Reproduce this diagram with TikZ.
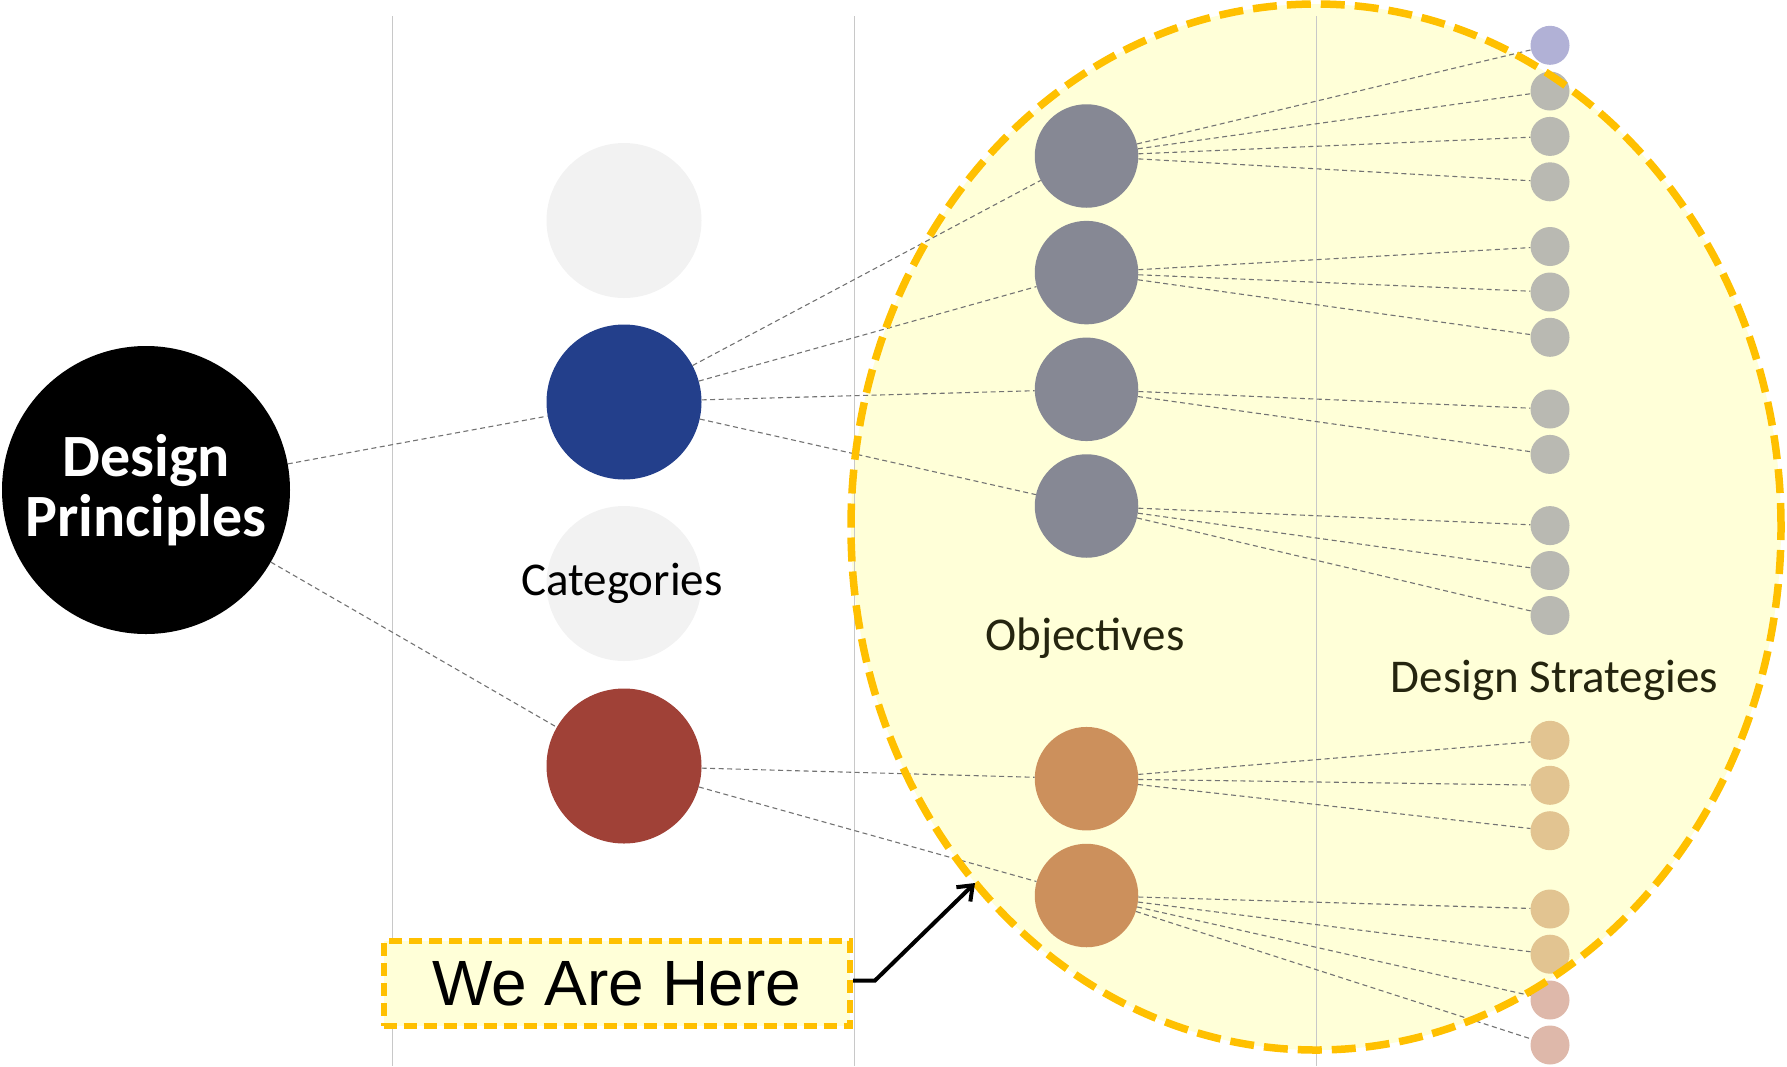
\documentclass[tikz,border=0pt]{standalone}
\usepackage{fontspec}
\setmainfont{Carlito}
\newfontfamily\arialf{Liberation Sans}
\usetikzlibrary{arrows.meta}
\definecolor{ylfill}{HTML}{FFFFD8}
\definecolor{ylline}{HTML}{FFC000}
\definecolor{catgray}{HTML}{F2F2F2}
\definecolor{catblue}{HTML}{233F8B}
\definecolor{catred}{HTML}{A04137}
\definecolor{objgray}{HTML}{868894}
\definecolor{objorange}{HTML}{CC905C}
\definecolor{stpurple}{HTML}{B1B1D6}
\definecolor{stgray}{HTML}{B9B9B2}
\definecolor{storange}{HTML}{E2C491}
\definecolor{stpink}{HTML}{DEB8AA}
\definecolor{darktext}{HTML}{25250F}
\definecolor{rulegray}{HTML}{C8C8C8}
\begin{document}
\begin{tikzpicture}[x=1pt,y=-1pt,
  conn/.style={draw=black!55, line width=1.1pt, dash pattern=on 5pt off 3.5pt},
  catc/.style={circle, minimum size=155pt, inner sep=0pt},
  objc/.style={circle, minimum size=103.5pt, inner sep=0pt},
  strc/.style={circle, minimum size=39pt, inner sep=0pt},
  lbl/.style={anchor=base, inner sep=0pt, font=\fontsize{47}{56}\selectfont},
  ybox/.style={draw=ylline, fill=ylfill, line width=6pt, dash pattern=on 13pt off 7pt,
    minimum width=466.5pt, minimum height=85pt, inner sep=0pt,
    font=\arialf\fontsize{64}{70}\selectfont}
]
\useasboundingbox (0,0) rectangle (1787,1066);
% ellipse fill
\fill[ylfill] (1316,527) ellipse [x radius=465pt, y radius=523pt];
% column rules
\foreach \xx in {392,854,1316}
  \draw[line width=0.8pt, rulegray] (\xx,16) -- (\xx,1066);

% main node
\node[circle, fill=black, minimum size=288pt, inner sep=0pt, text=white,
  font=\bfseries\fontsize{60}{60}\selectfont, align=center] (dp) at (146,490) {Design\\Principles};

% categories
\node[catc, fill=catgray] (c1) at (624,220.5) {};
\node[catc, fill=catblue] (c2) at (624,402) {};
\node[catc, fill=catgray] (c3) at (624,583.5) {};
\node[catc, fill=catred]  (c4) at (624,766) {};
\node[lbl] (catlabel) at (622,595) {Categories};

% objectives
\node[objc, fill=objgray] (o1) at (1086.5,156) {};
\node[objc, fill=objgray] (o2) at (1086.5,272.6) {};
\node[objc, fill=objgray] (o3) at (1086.5,389.3) {};
\node[objc, fill=objgray] (o4) at (1086.5,506) {};
\node[objc, fill=objorange] (o5) at (1086.5,778.7) {};
\node[objc, fill=objorange] (o6) at (1086.5,895.5) {};
\node[lbl, text=darktext] (objlabel) at (1085,650.5) {Objectives};

% strategies
\node[strc, fill=stpurple] (s1) at (1550,45.3) {};
\node[strc, fill=stgray] (s2) at (1550,91) {};
\node[strc, fill=stgray] (s3) at (1550,136.4) {};
\node[strc, fill=stgray] (s4) at (1550,181.8) {};
\node[strc, fill=stgray] (s5) at (1550,246.5) {};
\node[strc, fill=stgray] (s6) at (1550,292) {};
\node[strc, fill=stgray] (s7) at (1550,337.3) {};
\node[strc, fill=stgray] (s8) at (1550,409) {};
\node[strc, fill=stgray] (s9) at (1550,454.4) {};
\node[strc, fill=stgray] (s10) at (1550,525.6) {};
\node[strc, fill=stgray] (s11) at (1550,570.5) {};
\node[strc, fill=stgray] (s12) at (1550,615.5) {};
\node[strc, fill=storange] (s13) at (1550,740.3) {};
\node[strc, fill=storange] (s14) at (1550,785.3) {};
\node[strc, fill=storange] (s15) at (1550,830.7) {};
\node[strc, fill=storange] (s16) at (1550,909) {};
\node[strc, fill=storange] (s17) at (1550,954.2) {};
\node[strc, fill=stpink] (s18) at (1550,1000) {};
\node[strc, fill=stpink] (s19) at (1550,1045) {};
\node[lbl, text=darktext] (stlabel) at (1554.5,692.4) {Design Strategies};

% connectors
\draw[conn] (dp) -- (c2);
\draw[conn] (dp) -- (c4);
\foreach \o in {o1,o2,o3,o4} \draw[conn] (c2) -- (\o);
\foreach \o in {o5,o6} \draw[conn] (c4) -- (\o);
\foreach \s in {s1,s2,s3,s4} \draw[conn] (o1) -- (\s);
\foreach \s in {s5,s6,s7} \draw[conn] (o2) -- (\s);
\foreach \s in {s8,s9} \draw[conn] (o3) -- (\s);
\foreach \s in {s10,s11,s12} \draw[conn] (o4) -- (\s);
\foreach \s in {s13,s14,s15} \draw[conn] (o5) -- (\s);
\foreach \s in {s16,s17,s18,s19} \draw[conn] (o6) -- (\s);

% ellipse border on top
\draw[ylline, line width=7.5pt, dash pattern=on 24pt off 10pt] (1316,527) ellipse [x radius=465pt, y radius=523pt];

% We Are Here box and arrow
\node[ybox] (wah) at (616.75,983.5) {We Are Here};
\coordinate (tip) at (975,883);
\draw[line width=4pt, -{Straight Barb[length=13pt,width=20pt]}]
  ([yshift=3pt]wah.east) -- ++(22,0) -- (tip);
\end{tikzpicture}
\end{document}
